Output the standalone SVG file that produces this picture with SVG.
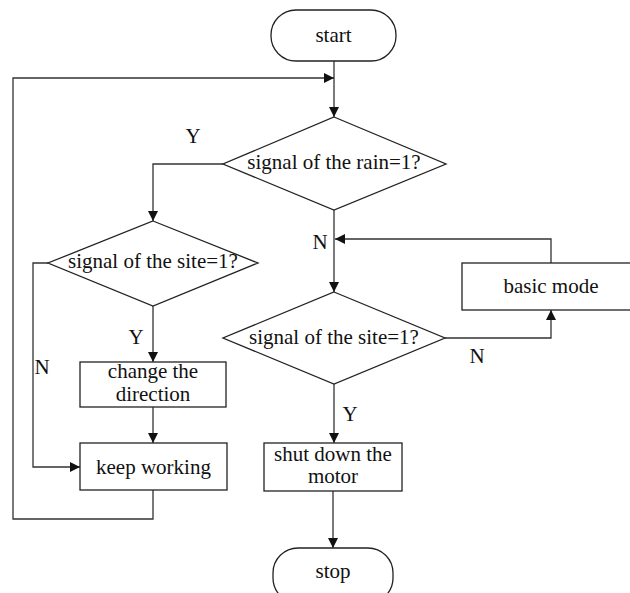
<svg xmlns="http://www.w3.org/2000/svg" width="630" height="593" viewBox="0 0 630 593">
<style>
.s{fill:#fff;stroke:#222;stroke-width:1.3}
.c{fill:none;stroke:#333;stroke-width:1.3}
text{font-family:"Liberation Serif","Times New Roman",serif;font-size:21px;fill:#111;text-anchor:middle}
</style>
<defs>
<marker id="a" markerWidth="10" markerHeight="10" refX="10" refY="5" orient="auto" markerUnits="userSpaceOnUse" viewBox="0 0 10 10">
<path d="M0,0 L10,5 L0,10 z" fill="#111"/>
</marker>
</defs>
<rect width="630" height="593" fill="#fff"/>
<g id="connectors">
<path class="c" d="M334,61 V117" marker-end="url(#a)"/>
<path class="c" d="M153,490 V519 H13 V78 H334" marker-end="url(#a)"/>
<path class="c" d="M223,164 H153 V221" marker-end="url(#a)"/>
<path class="c" d="M334,210 V292" marker-end="url(#a)"/>
<path class="c" d="M48,263 H33 V467 H80" marker-end="url(#a)"/>
<path class="c" d="M153,306 V362" marker-end="url(#a)"/>
<path class="c" d="M153,407 V443" marker-end="url(#a)"/>
<path class="c" d="M445,338 H551 V310" marker-end="url(#a)"/>
<path class="c" d="M551,263 V239 H335" marker-end="url(#a)"/>
<path class="c" d="M334,384 V443" marker-end="url(#a)"/>
<path class="c" d="M333,491 V548" marker-end="url(#a)"/>
</g>
<g id="labels">
<text x="193" y="143">Y</text>
<text x="320" y="249">N</text>
<text x="42" y="374">N</text>
<text x="136" y="344">Y</text>
<text x="477" y="363">N</text>
<text x="350" y="421">Y</text>
</g>
<g id="start">
<rect class="s" x="271" y="10" width="125" height="51" rx="25"/>
<text x="333.5" y="42">start</text>
</g>
<g id="rain">
<path class="s" d="M334,117 L446,164 L334,210 L223,164 z"/>
<text x="334" y="169">signal of the rain=1?</text>
</g>
<g id="siteLeft">
<path class="s" d="M153,221 L258,263 L153,306 L48,263 z"/>
<text x="153" y="268">signal of the site=1?</text>
</g>
<g id="change">
<rect class="s" x="80" y="362" width="146" height="45"/>
<text x="153" y="378">change the</text>
<text x="153" y="401">direction</text>
</g>
<g id="keep">
<rect class="s" x="80" y="443" width="147" height="47"/>
<text x="153.5" y="474">keep working</text>
</g>
<g id="siteRight">
<path class="s" d="M334,292 L445,338 L334,384 L223,338 z"/>
<text x="334" y="344">signal of the site=1?</text>
</g>
<g id="basic">
<rect class="s" x="462" y="263" width="178" height="47"/>
<text x="551" y="293">basic mode</text>
</g>
<g id="shut">
<rect class="s" x="264" y="443" width="138" height="48"/>
<text x="333" y="461">shut down the</text>
<text x="333" y="483">motor</text>
</g>
<g id="stop">
<rect class="s" x="273" y="548" width="120" height="55" rx="25"/>
<text x="333" y="578">stop</text>
</g>
</svg>
